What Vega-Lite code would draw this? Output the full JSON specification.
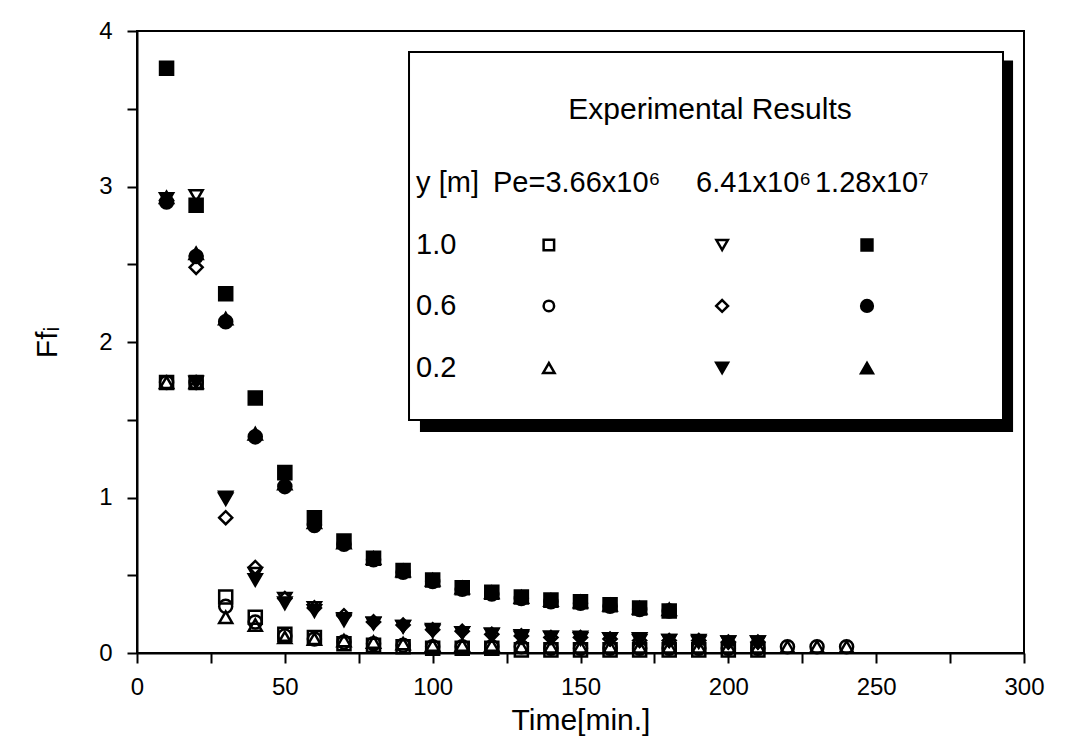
{
  "$schema": "https://vega.github.io/schema/vega-lite/v6.json",
  "width": 887,
  "height": 622,
  "autosize": {"type": "none"},
  "padding": {"left": 137, "top": 31, "right": 47, "bottom": 92},
  "background": "white",
  "config": {
    "view": {"stroke": "black", "strokeWidth": 2},
    "font": "Liberation Sans",
    "text": {"font": "Liberation Sans", "fontSize": 29, "color": "black", "baseline": "middle", "align": "left"},
    "axis": {
      "domainColor": "black", "domainWidth": 2,
      "tickColor": "black", "tickWidth": 2, "ticks": true, "tickOpacity": 1,
      "labelColor": "black", "titleColor": "black",
      "labelFont": "Liberation Sans", "titleFont": "Liberation Sans",
      "labelFontSize": 24, "titleFontSize": 30, "titleFontWeight": "normal",
      "grid": false
    }
  },
  "datasets": {
    "one": [{}],
    "obs": [
      {"t": 10, "Ff": 1.74, "series": "1.0, Pe=3.66x10⁶"},
      {"t": 20, "Ff": 1.74, "series": "1.0, Pe=3.66x10⁶"},
      {"t": 30, "Ff": 0.36, "series": "1.0, Pe=3.66x10⁶"},
      {"t": 40, "Ff": 0.23, "series": "1.0, Pe=3.66x10⁶"},
      {"t": 50, "Ff": 0.12, "series": "1.0, Pe=3.66x10⁶"},
      {"t": 60, "Ff": 0.10, "series": "1.0, Pe=3.66x10⁶"},
      {"t": 70, "Ff": 0.06, "series": "1.0, Pe=3.66x10⁶"},
      {"t": 80, "Ff": 0.05, "series": "1.0, Pe=3.66x10⁶"},
      {"t": 90, "Ff": 0.04, "series": "1.0, Pe=3.66x10⁶"},
      {"t": 100, "Ff": 0.03, "series": "1.0, Pe=3.66x10⁶"},
      {"t": 110, "Ff": 0.03, "series": "1.0, Pe=3.66x10⁶"},
      {"t": 120, "Ff": 0.03, "series": "1.0, Pe=3.66x10⁶"},
      {"t": 130, "Ff": 0.02, "series": "1.0, Pe=3.66x10⁶"},
      {"t": 140, "Ff": 0.02, "series": "1.0, Pe=3.66x10⁶"},
      {"t": 150, "Ff": 0.02, "series": "1.0, Pe=3.66x10⁶"},
      {"t": 160, "Ff": 0.02, "series": "1.0, Pe=3.66x10⁶"},
      {"t": 170, "Ff": 0.02, "series": "1.0, Pe=3.66x10⁶"},
      {"t": 180, "Ff": 0.02, "series": "1.0, Pe=3.66x10⁶"},
      {"t": 190, "Ff": 0.02, "series": "1.0, Pe=3.66x10⁶"},
      {"t": 200, "Ff": 0.02, "series": "1.0, Pe=3.66x10⁶"},
      {"t": 210, "Ff": 0.02, "series": "1.0, Pe=3.66x10⁶"},

      {"t": 10, "Ff": 1.74, "series": "0.6, Pe=3.66x10⁶"},
      {"t": 20, "Ff": 1.74, "series": "0.6, Pe=3.66x10⁶"},
      {"t": 30, "Ff": 0.30, "series": "0.6, Pe=3.66x10⁶"},
      {"t": 40, "Ff": 0.20, "series": "0.6, Pe=3.66x10⁶"},
      {"t": 50, "Ff": 0.11, "series": "0.6, Pe=3.66x10⁶"},
      {"t": 60, "Ff": 0.09, "series": "0.6, Pe=3.66x10⁶"},
      {"t": 70, "Ff": 0.07, "series": "0.6, Pe=3.66x10⁶"},
      {"t": 80, "Ff": 0.06, "series": "0.6, Pe=3.66x10⁶"},
      {"t": 90, "Ff": 0.05, "series": "0.6, Pe=3.66x10⁶"},
      {"t": 100, "Ff": 0.04, "series": "0.6, Pe=3.66x10⁶"},
      {"t": 110, "Ff": 0.04, "series": "0.6, Pe=3.66x10⁶"},
      {"t": 120, "Ff": 0.04, "series": "0.6, Pe=3.66x10⁶"},
      {"t": 130, "Ff": 0.04, "series": "0.6, Pe=3.66x10⁶"},
      {"t": 140, "Ff": 0.03, "series": "0.6, Pe=3.66x10⁶"},
      {"t": 150, "Ff": 0.03, "series": "0.6, Pe=3.66x10⁶"},
      {"t": 160, "Ff": 0.03, "series": "0.6, Pe=3.66x10⁶"},
      {"t": 170, "Ff": 0.03, "series": "0.6, Pe=3.66x10⁶"},
      {"t": 180, "Ff": 0.03, "series": "0.6, Pe=3.66x10⁶"},
      {"t": 190, "Ff": 0.03, "series": "0.6, Pe=3.66x10⁶"},
      {"t": 200, "Ff": 0.03, "series": "0.6, Pe=3.66x10⁶"},
      {"t": 210, "Ff": 0.03, "series": "0.6, Pe=3.66x10⁶"},
      {"t": 220, "Ff": 0.04, "series": "0.6, Pe=3.66x10⁶"},
      {"t": 230, "Ff": 0.04, "series": "0.6, Pe=3.66x10⁶"},
      {"t": 240, "Ff": 0.04, "series": "0.6, Pe=3.66x10⁶"},

      {"t": 10, "Ff": 1.74, "series": "0.2, Pe=3.66x10⁶"},
      {"t": 20, "Ff": 1.74, "series": "0.2, Pe=3.66x10⁶"},
      {"t": 30, "Ff": 0.23, "series": "0.2, Pe=3.66x10⁶"},
      {"t": 40, "Ff": 0.18, "series": "0.2, Pe=3.66x10⁶"},
      {"t": 50, "Ff": 0.10, "series": "0.2, Pe=3.66x10⁶"},
      {"t": 60, "Ff": 0.09, "series": "0.2, Pe=3.66x10⁶"},
      {"t": 70, "Ff": 0.08, "series": "0.2, Pe=3.66x10⁶"},
      {"t": 80, "Ff": 0.07, "series": "0.2, Pe=3.66x10⁶"},
      {"t": 90, "Ff": 0.06, "series": "0.2, Pe=3.66x10⁶"},
      {"t": 100, "Ff": 0.05, "series": "0.2, Pe=3.66x10⁶"},
      {"t": 110, "Ff": 0.05, "series": "0.2, Pe=3.66x10⁶"},
      {"t": 120, "Ff": 0.05, "series": "0.2, Pe=3.66x10⁶"},
      {"t": 130, "Ff": 0.04, "series": "0.2, Pe=3.66x10⁶"},
      {"t": 140, "Ff": 0.04, "series": "0.2, Pe=3.66x10⁶"},
      {"t": 150, "Ff": 0.04, "series": "0.2, Pe=3.66x10⁶"},
      {"t": 160, "Ff": 0.04, "series": "0.2, Pe=3.66x10⁶"},
      {"t": 170, "Ff": 0.04, "series": "0.2, Pe=3.66x10⁶"},
      {"t": 180, "Ff": 0.04, "series": "0.2, Pe=3.66x10⁶"},
      {"t": 190, "Ff": 0.04, "series": "0.2, Pe=3.66x10⁶"},
      {"t": 200, "Ff": 0.04, "series": "0.2, Pe=3.66x10⁶"},
      {"t": 210, "Ff": 0.04, "series": "0.2, Pe=3.66x10⁶"},
      {"t": 220, "Ff": 0.04, "series": "0.2, Pe=3.66x10⁶"},
      {"t": 230, "Ff": 0.04, "series": "0.2, Pe=3.66x10⁶"},
      {"t": 240, "Ff": 0.04, "series": "0.2, Pe=3.66x10⁶"},

      {"t": 20, "Ff": 2.94, "series": "1.0, Pe=6.41x10⁶"},
      {"t": 30, "Ff": 1.00, "series": "1.0, Pe=6.41x10⁶"},
      {"t": 40, "Ff": 0.51, "series": "1.0, Pe=6.41x10⁶"},
      {"t": 50, "Ff": 0.35, "series": "1.0, Pe=6.41x10⁶"},
      {"t": 60, "Ff": 0.29, "series": "1.0, Pe=6.41x10⁶"},
      {"t": 70, "Ff": 0.22, "series": "1.0, Pe=6.41x10⁶"},
      {"t": 80, "Ff": 0.19, "series": "1.0, Pe=6.41x10⁶"},
      {"t": 90, "Ff": 0.17, "series": "1.0, Pe=6.41x10⁶"},
      {"t": 100, "Ff": 0.15, "series": "1.0, Pe=6.41x10⁶"},
      {"t": 110, "Ff": 0.13, "series": "1.0, Pe=6.41x10⁶"},
      {"t": 120, "Ff": 0.12, "series": "1.0, Pe=6.41x10⁶"},
      {"t": 130, "Ff": 0.11, "series": "1.0, Pe=6.41x10⁶"},
      {"t": 140, "Ff": 0.10, "series": "1.0, Pe=6.41x10⁶"},
      {"t": 150, "Ff": 0.10, "series": "1.0, Pe=6.41x10⁶"},
      {"t": 160, "Ff": 0.09, "series": "1.0, Pe=6.41x10⁶"},
      {"t": 170, "Ff": 0.09, "series": "1.0, Pe=6.41x10⁶"},
      {"t": 180, "Ff": 0.08, "series": "1.0, Pe=6.41x10⁶"},
      {"t": 190, "Ff": 0.08, "series": "1.0, Pe=6.41x10⁶"},
      {"t": 200, "Ff": 0.07, "series": "1.0, Pe=6.41x10⁶"},
      {"t": 210, "Ff": 0.07, "series": "1.0, Pe=6.41x10⁶"},

      {"t": 10, "Ff": 2.91, "series": "0.6, Pe=6.41x10⁶"},
      {"t": 20, "Ff": 2.48, "series": "0.6, Pe=6.41x10⁶"},
      {"t": 30, "Ff": 0.87, "series": "0.6, Pe=6.41x10⁶"},
      {"t": 40, "Ff": 0.55, "series": "0.6, Pe=6.41x10⁶"},
      {"t": 50, "Ff": 0.35, "series": "0.6, Pe=6.41x10⁶"},
      {"t": 60, "Ff": 0.29, "series": "0.6, Pe=6.41x10⁶"},
      {"t": 70, "Ff": 0.24, "series": "0.6, Pe=6.41x10⁶"},
      {"t": 80, "Ff": 0.20, "series": "0.6, Pe=6.41x10⁶"},
      {"t": 90, "Ff": 0.18, "series": "0.6, Pe=6.41x10⁶"},
      {"t": 100, "Ff": 0.15, "series": "0.6, Pe=6.41x10⁶"},
      {"t": 110, "Ff": 0.14, "series": "0.6, Pe=6.41x10⁶"},
      {"t": 120, "Ff": 0.12, "series": "0.6, Pe=6.41x10⁶"},
      {"t": 130, "Ff": 0.11, "series": "0.6, Pe=6.41x10⁶"},
      {"t": 140, "Ff": 0.10, "series": "0.6, Pe=6.41x10⁶"},
      {"t": 150, "Ff": 0.10, "series": "0.6, Pe=6.41x10⁶"},
      {"t": 160, "Ff": 0.09, "series": "0.6, Pe=6.41x10⁶"},
      {"t": 170, "Ff": 0.08, "series": "0.6, Pe=6.41x10⁶"},
      {"t": 180, "Ff": 0.08, "series": "0.6, Pe=6.41x10⁶"},
      {"t": 190, "Ff": 0.08, "series": "0.6, Pe=6.41x10⁶"},
      {"t": 200, "Ff": 0.07, "series": "0.6, Pe=6.41x10⁶"},
      {"t": 210, "Ff": 0.07, "series": "0.6, Pe=6.41x10⁶"},

      {"t": 10, "Ff": 2.92, "series": "0.2, Pe=6.41x10⁶"},
      {"t": 20, "Ff": 1.74, "series": "0.2, Pe=6.41x10⁶"},
      {"t": 30, "Ff": 0.99, "series": "0.2, Pe=6.41x10⁶"},
      {"t": 40, "Ff": 0.47, "series": "0.2, Pe=6.41x10⁶"},
      {"t": 50, "Ff": 0.32, "series": "0.2, Pe=6.41x10⁶"},
      {"t": 60, "Ff": 0.27, "series": "0.2, Pe=6.41x10⁶"},
      {"t": 70, "Ff": 0.21, "series": "0.2, Pe=6.41x10⁶"},
      {"t": 80, "Ff": 0.19, "series": "0.2, Pe=6.41x10⁶"},
      {"t": 90, "Ff": 0.17, "series": "0.2, Pe=6.41x10⁶"},
      {"t": 100, "Ff": 0.14, "series": "0.2, Pe=6.41x10⁶"},
      {"t": 110, "Ff": 0.13, "series": "0.2, Pe=6.41x10⁶"},
      {"t": 120, "Ff": 0.12, "series": "0.2, Pe=6.41x10⁶"},
      {"t": 130, "Ff": 0.10, "series": "0.2, Pe=6.41x10⁶"},
      {"t": 140, "Ff": 0.10, "series": "0.2, Pe=6.41x10⁶"},
      {"t": 150, "Ff": 0.09, "series": "0.2, Pe=6.41x10⁶"},
      {"t": 160, "Ff": 0.09, "series": "0.2, Pe=6.41x10⁶"},
      {"t": 170, "Ff": 0.08, "series": "0.2, Pe=6.41x10⁶"},
      {"t": 180, "Ff": 0.08, "series": "0.2, Pe=6.41x10⁶"},
      {"t": 190, "Ff": 0.07, "series": "0.2, Pe=6.41x10⁶"},
      {"t": 200, "Ff": 0.07, "series": "0.2, Pe=6.41x10⁶"},
      {"t": 210, "Ff": 0.07, "series": "0.2, Pe=6.41x10⁶"},

      {"t": 10, "Ff": 3.76, "series": "1.0, Pe=1.28x10⁷"},
      {"t": 20, "Ff": 2.88, "series": "1.0, Pe=1.28x10⁷"},
      {"t": 30, "Ff": 2.31, "series": "1.0, Pe=1.28x10⁷"},
      {"t": 40, "Ff": 1.64, "series": "1.0, Pe=1.28x10⁷"},
      {"t": 50, "Ff": 1.16, "series": "1.0, Pe=1.28x10⁷"},
      {"t": 60, "Ff": 0.87, "series": "1.0, Pe=1.28x10⁷"},
      {"t": 70, "Ff": 0.72, "series": "1.0, Pe=1.28x10⁷"},
      {"t": 80, "Ff": 0.61, "series": "1.0, Pe=1.28x10⁷"},
      {"t": 90, "Ff": 0.53, "series": "1.0, Pe=1.28x10⁷"},
      {"t": 100, "Ff": 0.47, "series": "1.0, Pe=1.28x10⁷"},
      {"t": 110, "Ff": 0.42, "series": "1.0, Pe=1.28x10⁷"},
      {"t": 120, "Ff": 0.39, "series": "1.0, Pe=1.28x10⁷"},
      {"t": 130, "Ff": 0.36, "series": "1.0, Pe=1.28x10⁷"},
      {"t": 140, "Ff": 0.34, "series": "1.0, Pe=1.28x10⁷"},
      {"t": 150, "Ff": 0.33, "series": "1.0, Pe=1.28x10⁷"},
      {"t": 160, "Ff": 0.31, "series": "1.0, Pe=1.28x10⁷"},
      {"t": 170, "Ff": 0.29, "series": "1.0, Pe=1.28x10⁷"},
      {"t": 180, "Ff": 0.27, "series": "1.0, Pe=1.28x10⁷"},

      {"t": 10, "Ff": 2.90, "series": "0.6, Pe=1.28x10⁷"},
      {"t": 20, "Ff": 2.55, "series": "0.6, Pe=1.28x10⁷"},
      {"t": 30, "Ff": 2.13, "series": "0.6, Pe=1.28x10⁷"},
      {"t": 40, "Ff": 1.39, "series": "0.6, Pe=1.28x10⁷"},
      {"t": 50, "Ff": 1.07, "series": "0.6, Pe=1.28x10⁷"},
      {"t": 60, "Ff": 0.82, "series": "0.6, Pe=1.28x10⁷"},
      {"t": 70, "Ff": 0.70, "series": "0.6, Pe=1.28x10⁷"},
      {"t": 80, "Ff": 0.60, "series": "0.6, Pe=1.28x10⁷"},
      {"t": 90, "Ff": 0.52, "series": "0.6, Pe=1.28x10⁷"},
      {"t": 100, "Ff": 0.46, "series": "0.6, Pe=1.28x10⁷"},
      {"t": 110, "Ff": 0.41, "series": "0.6, Pe=1.28x10⁷"},
      {"t": 120, "Ff": 0.38, "series": "0.6, Pe=1.28x10⁷"},
      {"t": 130, "Ff": 0.35, "series": "0.6, Pe=1.28x10⁷"},
      {"t": 140, "Ff": 0.33, "series": "0.6, Pe=1.28x10⁷"},
      {"t": 150, "Ff": 0.32, "series": "0.6, Pe=1.28x10⁷"},
      {"t": 160, "Ff": 0.30, "series": "0.6, Pe=1.28x10⁷"},
      {"t": 170, "Ff": 0.28, "series": "0.6, Pe=1.28x10⁷"},
      {"t": 180, "Ff": 0.27, "series": "0.6, Pe=1.28x10⁷"},

      {"t": 10, "Ff": 2.93, "series": "0.2, Pe=1.28x10⁷"},
      {"t": 20, "Ff": 2.57, "series": "0.2, Pe=1.28x10⁷"},
      {"t": 30, "Ff": 2.15, "series": "0.2, Pe=1.28x10⁷"},
      {"t": 40, "Ff": 1.41, "series": "0.2, Pe=1.28x10⁷"},
      {"t": 50, "Ff": 1.09, "series": "0.2, Pe=1.28x10⁷"},
      {"t": 60, "Ff": 0.84, "series": "0.2, Pe=1.28x10⁷"},
      {"t": 70, "Ff": 0.71, "series": "0.2, Pe=1.28x10⁷"},
      {"t": 80, "Ff": 0.61, "series": "0.2, Pe=1.28x10⁷"},
      {"t": 90, "Ff": 0.53, "series": "0.2, Pe=1.28x10⁷"},
      {"t": 100, "Ff": 0.47, "series": "0.2, Pe=1.28x10⁷"},
      {"t": 110, "Ff": 0.42, "series": "0.2, Pe=1.28x10⁷"},
      {"t": 120, "Ff": 0.39, "series": "0.2, Pe=1.28x10⁷"},
      {"t": 130, "Ff": 0.36, "series": "0.2, Pe=1.28x10⁷"},
      {"t": 140, "Ff": 0.34, "series": "0.2, Pe=1.28x10⁷"},
      {"t": 150, "Ff": 0.33, "series": "0.2, Pe=1.28x10⁷"},
      {"t": 160, "Ff": 0.31, "series": "0.2, Pe=1.28x10⁷"},
      {"t": 170, "Ff": 0.29, "series": "0.2, Pe=1.28x10⁷"},
      {"t": 180, "Ff": 0.28, "series": "0.2, Pe=1.28x10⁷"}
    ]
  },
  "layer": [
    {
      "data": {"name": "one"},
      "mark": {"type": "rect", "fill": "black"},
      "encoding": {
        "x": {"datum": 95.7, "type": "quantitative", "scale": {"domain": [0, 300], "nice": false, "zero": false},
          "axis": {"title": "Time[min.]", "values": [0, 25, 50, 75, 100, 125, 150, 175, 200, 225, 250, 275, 300],
            "labelExpr": "datum.value % 50 === 0 ? format(datum.value, 'd') : ''",
            "ticks": true, "tickSize": 10, "tickWidth": 2, "tickColor": "black", "tickOpacity": 1,
            "labelPadding": 12, "titlePadding": 6, "labelFlush": false}},
        "x2": {"datum": 296.3},
        "y": {"datum": 3.81, "type": "quantitative", "scale": {"domain": [0, 4], "nice": false, "zero": false},
          "axis": {"title": "Ffᵢ", "values": [0, 0.5, 1, 1.5, 2, 2.5, 3, 3.5, 4],
            "labelExpr": "datum.value % 1 === 0 ? format(datum.value, 'd') : ''",
            "ticks": true, "tickSize": 10, "tickWidth": 2, "tickColor": "black", "tickOpacity": 1,
            "labelPadding": 15, "titlePadding": 36, "labelFlush": false}},
        "y2": {"datum": 1.421}
      }
    },
    {
      "data": {"name": "one"},
      "mark": {"type": "rect", "fill": "white", "stroke": "black", "strokeWidth": 2},
      "encoding": {
        "x": {"datum": 92, "type": "quantitative"}, "x2": {"datum": 292.9},
        "y": {"datum": 3.865, "type": "quantitative"}, "y2": {"datum": 1.498}
      }
    },
    {"data": {"name": "one"}, "mark": {"type": "text", "text": "Experimental Results", "align": "center", "fontSize": 30},
      "encoding": {"x": {"datum": 193.8, "type": "quantitative"}, "y": {"datum": 3.492, "type": "quantitative"}}},
    {"data": {"name": "one"}, "mark": {"type": "text", "text": "y [m]"},
      "encoding": {"x": {"datum": 94.4, "type": "quantitative"}, "y": {"datum": 3.023, "type": "quantitative"}}},
    {"data": {"name": "one"}, "mark": {"type": "text", "text": "Pe=3.66x10⁶"},
      "encoding": {"x": {"datum": 120.4, "type": "quantitative"}, "y": {"datum": 3.023, "type": "quantitative"}}},
    {"data": {"name": "one"}, "mark": {"type": "text", "text": "6.41x10⁶"},
      "encoding": {"x": {"datum": 189.1, "type": "quantitative"}, "y": {"datum": 3.023, "type": "quantitative"}}},
    {"data": {"name": "one"}, "mark": {"type": "text", "text": "1.28x10⁷"},
      "encoding": {"x": {"datum": 229.3, "type": "quantitative"}, "y": {"datum": 3.023, "type": "quantitative"}}},
    {"data": {"name": "one"}, "mark": {"type": "text", "text": "1.0"},
      "encoding": {"x": {"datum": 94.4, "type": "quantitative"}, "y": {"datum": 2.624, "type": "quantitative"}}},
    {"data": {"name": "one"}, "mark": {"type": "text", "text": "0.6"},
      "encoding": {"x": {"datum": 94.4, "type": "quantitative"}, "y": {"datum": 2.232, "type": "quantitative"}}},
    {"data": {"name": "one"}, "mark": {"type": "text", "text": "0.2"},
      "encoding": {"x": {"datum": 94.4, "type": "quantitative"}, "y": {"datum": 1.833, "type": "quantitative"}}},

    {"data": {"name": "one"}, "mark": {"type": "point", "shape": "square", "filled": true, "fill": "transparent", "stroke": "black", "strokeWidth": 2.5, "size": 110, "opacity": 1},
      "encoding": {"x": {"datum": 139.3, "type": "quantitative"}, "y": {"datum": 2.624, "type": "quantitative"}}},
    {"data": {"name": "one"}, "mark": {"type": "point", "shape": "triangle-down", "filled": true, "fill": "transparent", "stroke": "black", "strokeWidth": 2.5, "size": 130, "opacity": 1},
      "encoding": {"x": {"datum": 197.9, "type": "quantitative"}, "y": {"datum": 2.624, "type": "quantitative"}}},
    {"data": {"name": "one"}, "mark": {"type": "point", "shape": "square", "filled": true, "fill": "black", "stroke": "black", "strokeWidth": 2, "size": 130, "opacity": 1},
      "encoding": {"x": {"datum": 246.9, "type": "quantitative"}, "y": {"datum": 2.624, "type": "quantitative"}}},
    {"data": {"name": "one"}, "mark": {"type": "point", "shape": "circle", "filled": true, "fill": "transparent", "stroke": "black", "strokeWidth": 2.5, "size": 110, "opacity": 1},
      "encoding": {"x": {"datum": 139.3, "type": "quantitative"}, "y": {"datum": 2.232, "type": "quantitative"}}},
    {"data": {"name": "one"}, "mark": {"type": "point", "shape": "diamond", "filled": true, "fill": "transparent", "stroke": "black", "strokeWidth": 2.5, "size": 140, "opacity": 1},
      "encoding": {"x": {"datum": 197.9, "type": "quantitative"}, "y": {"datum": 2.232, "type": "quantitative"}}},
    {"data": {"name": "one"}, "mark": {"type": "point", "shape": "circle", "filled": true, "fill": "black", "stroke": "black", "strokeWidth": 2, "size": 150, "opacity": 1},
      "encoding": {"x": {"datum": 246.9, "type": "quantitative"}, "y": {"datum": 2.232, "type": "quantitative"}}},
    {"data": {"name": "one"}, "mark": {"type": "point", "shape": "triangle-up", "filled": true, "fill": "transparent", "stroke": "black", "strokeWidth": 2.5, "size": 130, "opacity": 1},
      "encoding": {"x": {"datum": 139.3, "type": "quantitative"}, "y": {"datum": 1.833, "type": "quantitative"}}},
    {"data": {"name": "one"}, "mark": {"type": "point", "shape": "triangle-down", "filled": true, "fill": "black", "stroke": "black", "strokeWidth": 2, "size": 160, "opacity": 1},
      "encoding": {"x": {"datum": 197.9, "type": "quantitative"}, "y": {"datum": 1.833, "type": "quantitative"}}},
    {"data": {"name": "one"}, "mark": {"type": "point", "shape": "triangle-up", "filled": true, "fill": "black", "stroke": "black", "strokeWidth": 2, "size": 160, "opacity": 1},
      "encoding": {"x": {"datum": 246.9, "type": "quantitative"}, "y": {"datum": 1.833, "type": "quantitative"}}},

    {
      "data": {"name": "obs"},
      "mark": {"type": "point", "filled": true, "stroke": "black", "strokeWidth": 2.5, "size": 170, "opacity": 1},
      "encoding": {
        "x": {"field": "t", "type": "quantitative"},
        "y": {"field": "Ff", "type": "quantitative"},
        "shape": {
          "field": "series", "type": "nominal", "legend": null,
          "scale": {
            "domain": ["1.0, Pe=3.66x10⁶", "1.0, Pe=6.41x10⁶", "1.0, Pe=1.28x10⁷",
              "0.6, Pe=3.66x10⁶", "0.6, Pe=6.41x10⁶", "0.6, Pe=1.28x10⁷",
              "0.2, Pe=3.66x10⁶", "0.2, Pe=6.41x10⁶", "0.2, Pe=1.28x10⁷"],
            "range": ["square", "triangle-down", "square",
              "circle", "diamond", "circle",
              "triangle-up", "triangle-down", "triangle-up"]
          }
        },
        "fill": {
          "field": "series", "type": "nominal", "legend": null,
          "scale": {
            "domain": ["1.0, Pe=3.66x10⁶", "1.0, Pe=6.41x10⁶", "1.0, Pe=1.28x10⁷",
              "0.6, Pe=3.66x10⁶", "0.6, Pe=6.41x10⁶", "0.6, Pe=1.28x10⁷",
              "0.2, Pe=3.66x10⁶", "0.2, Pe=6.41x10⁶", "0.2, Pe=1.28x10⁷"],
            "range": ["transparent", "transparent", "black",
              "transparent", "transparent", "black",
              "transparent", "black", "black"]
          }
        }
      }
    }
  ]
}
